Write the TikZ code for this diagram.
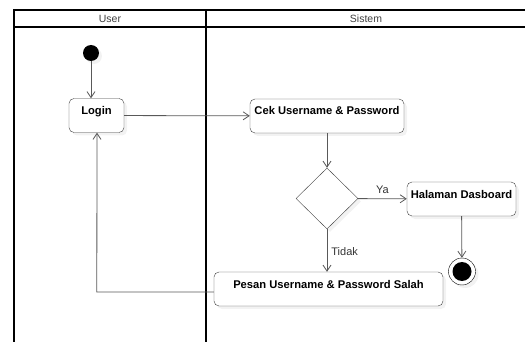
\documentclass[tikz,border=0pt]{standalone}
\usepackage{fontspec}
\setmainfont{Liberation Sans}
\usepackage{tikz}
\usetikzlibrary{arrows.meta,shapes.geometric,shadows,calc}
\usepackage{xcolor}
\definecolor{lineclr}{HTML}{595959}
\definecolor{boxclr}{HTML}{404040}
\tikzset{
    actbox/.style={draw=boxclr, rounded corners=5pt, fill=white, font=\fontsize{11.2}{13}\selectfont\bfseries, inner ysep=0pt, text height=16pt, text depth=18pt, drop shadow={shadow xshift=3pt, shadow yshift=-3pt, opacity=0.10}},
    actdecision/.style={diamond, draw=boxclr, fill=white, inner sep=0pt, minimum width=62pt, minimum height=61pt, drop shadow={shadow xshift=3pt, shadow yshift=-3pt, opacity=0.10}},
    actstart/.style={circle, fill=black, inner sep=0pt, minimum size=16pt, drop shadow={shadow xshift=3pt, shadow yshift=-3pt, opacity=0.10}},
    actend/.style={circle, draw=black, fill=white, inner sep=0pt, minimum size=27pt, path picture={\fill[black] (path picture bounding box.center) circle (9.5pt);}, drop shadow={shadow xshift=3pt, shadow yshift=-3pt, opacity=0.10}},
    actarrow/.style={draw=lineclr, line width=0.8pt, -{Straight Barb[length=6pt,width=8pt]}},
    actnote/.style={font=\fontsize{11}{13}\selectfont, text=black!80, inner sep=1pt},
    lanetitle/.style={font=\fontsize{10.5}{12}\selectfont, text=black!75, inner sep=0pt},
    laneline/.style={draw=black, line width=1.1pt}
}
\begin{document}
\begin{tikzpicture}[x=1pt, y=-1pt]
        \useasboundingbox (0,0) rectangle (525,342);

        % swimlanes
        \draw[laneline] (525,10) -- (14,10) -- (14,342);
        \draw[laneline] (14,27) -- (525,27);
        \draw[laneline] (206,10) -- (206,342);
        \node[lanetitle] (userlane) at (110,18.5) {User};
        \node[lanetitle] (sistemlane) at (366,18.5) {Sistem};

        \node[actstart] (mulai) at (91,53) {};
        \node[actbox, minimum width=55pt] (login) at (96.5,115.5) {Login};
        \node[actbox, minimum width=154pt] (cek) at (327,116) {Cek Username \& Password};
        \node[actdecision] (valid) at (327,198.5) {};
        \node[actbox, minimum width=109pt] (dasboard) at (461.5,199) {Halaman Dasboard};
        \node[actend] (selesai) at (462,271.5) {};
        \node[actbox, minimum width=229pt] (salah) at (328.5,289) {Pesan Username \& Password Salah};

        \draw[actarrow] (mulai) -- (mulai |- login.north);
        \draw[actarrow] (login) -- (cek);
        \draw[actarrow] (cek) -- (valid);
        \draw[actarrow] (valid) -- node[actnote, above, yshift=4pt]{Ya} (dasboard);
        \draw[actarrow] (dasboard) -- (selesai);
        \draw[actarrow] (valid.south) -- node[actnote, right, xshift=3pt, yshift=-1pt]{Tidak} (valid.south |- salah.north);
        \draw[actarrow] ([yshift=-3pt]salah.west) -- ++(-117,0) -- (97,0 |- login.south);
    \end{tikzpicture}
\end{document}
